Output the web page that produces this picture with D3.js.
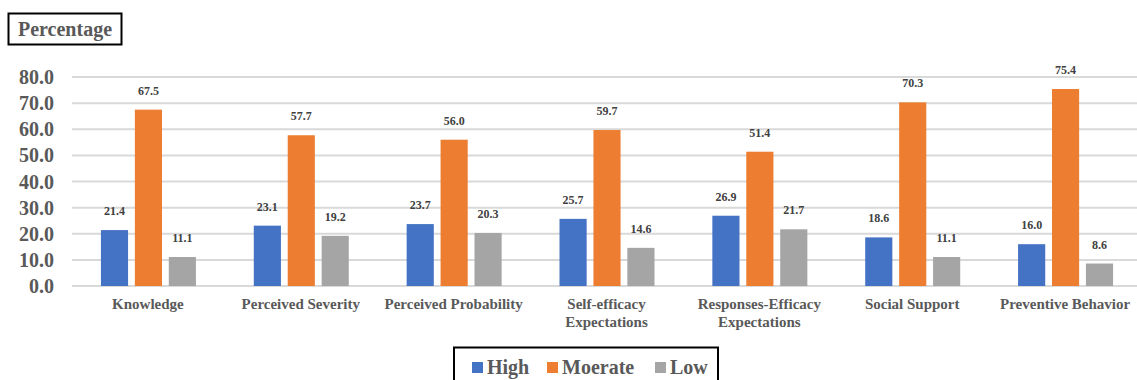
<!DOCTYPE html>
<html><head><meta charset="utf-8">
<script src="https://cdn.jsdelivr.net/npm/d3@7"></script>
<style>body{margin:0;background:#fff}svg{display:block}svg text{font-family:'Liberation Serif','Times New Roman',serif;font-weight:bold}</style>
</head><body>
<svg id="c" width="1137" height="380"></svg>
<script>
const categories = [["Knowledge"],["Perceived Severity"],["Perceived Probability"],["Self-efficacy","Expectations"],["Responses-Efficacy","Expectations"],["Social Support"],["Preventive Behavior"]];
const seriesNames = ["High","Moerate","Low"];
const high = [21.4,23.1,23.7,25.7,26.9,18.6,16.0];
const moderate = [67.5,57.7,56.0,59.7,51.4,70.3,75.4];
const low = [11.1,19.2,20.3,14.6,21.7,11.1,8.6];
const yTicks = [0,10,20,30,40,50,60,70,80];
const colors = ["#4472c4","#ed7d31","#a5a5a5"];
const series = [high, moderate, low];

const svg = d3.select("#c");
const pLeft = 72, pRight = 1142, pTop = 77, pBottom = 286;
const x = d3.scaleBand().domain(d3.range(categories.length)).range([pLeft, pRight]).paddingInner(0).paddingOuter(0);
const y = d3.scaleLinear().domain([0,80]).range([pBottom, pTop]);
const inner = d3.scaleBand().domain(d3.range(3)).range([-47.5, 47.5]).paddingInner(0.2).paddingOuter(0);

// gridlines
svg.append("g").selectAll("line").data(yTicks).join("line")
  .attr("x1", pLeft).attr("x2", 1137).attr("y1", d=>y(d)).attr("y2", d=>y(d))
  .attr("stroke", "#d9d9d9").attr("stroke-width", 2);

// y tick labels
svg.append("g").selectAll("text").data(yTicks).join("text")
  .attr("x", 54).attr("y", d=>y(d)).attr("dy","0.35em").attr("text-anchor","end")
  .style("font-size", "20px").attr("fill","#595959")
  .text(d=>d.toFixed(1));

// bars
series.forEach((vals, si) => {
  const g = svg.append("g");
  g.selectAll("rect").data(vals).join("rect")
    .attr("x", (d,i)=> x(i) + x.bandwidth()/2 + inner(si))
    .attr("width", inner.bandwidth())
    .attr("y", d=>y(d)).attr("height", d=>pBottom - y(d))
    .attr("fill", colors[si]);
  g.selectAll("text").data(vals).join("text")
    .attr("x", (d,i)=> x(i) + x.bandwidth()/2 + inner(si) + inner.bandwidth()/2)
    .attr("y", d=>y(d) - 15)
    .attr("text-anchor","middle")
    .style("font-size", "12px").attr("fill","#404040")
    .text(d=>d.toFixed(1));
});

// category labels
const cl = svg.append("g").selectAll("text").data(categories).join("text")
  .attr("x", (d,i)=> x(i) + x.bandwidth()/2 - 0.5)
  .attr("y", 309)
  .attr("text-anchor","middle")
  .style("font-size", "15px").attr("fill","#595959");
cl.each(function(d){
  const sx = d3.select(this).attr("x");
  d3.select(this).selectAll("tspan").data(d).join("tspan")
    .attr("x", sx).attr("dy",(t,j)=> j===0?0:18).text(t=>t);
});

// title box
svg.append("rect").attr("x",8.5).attr("y",13.5).attr("width",113).attr("height",31)
  .attr("fill","none").attr("stroke","#000").attr("stroke-width",2);
svg.append("text").attr("x",65).attr("y",36).attr("text-anchor","middle")
  .style("font-size","20px").attr("fill","#595959")
  .text("Percentage");

// legend
svg.append("rect").attr("x",454).attr("y",347.5).attr("width",264).attr("height",40)
  .attr("fill","none").attr("stroke","#000").attr("stroke-width",2);
const legX = [472, 547, 655];
const lg = svg.append("g").selectAll("g").data(seriesNames).join("g")
  .attr("transform",(d,i)=>`translate(${legX[i]},0)`);
lg.append("rect").attr("x",0).attr("y",362).attr("width",11).attr("height",11).attr("fill",(d,i)=>colors[i]);
lg.append("text").attr("x",15).attr("y",374)
  .style("font-size","20px").attr("fill","#595959")
  .text(d=>d);
</script>
</body></html>
